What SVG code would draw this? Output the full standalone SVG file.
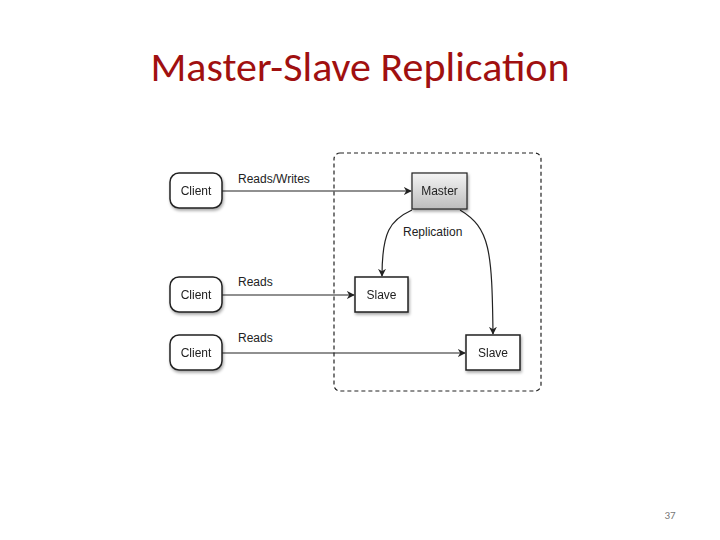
<svg xmlns="http://www.w3.org/2000/svg" width="720" height="540" viewBox="0 0 720 540">
<style>
.t{font-family:"Liberation Sans",Arial,sans-serif;font-size:12px;fill:#222}
.c{text-anchor:middle}
.box{fill:#fff;stroke:#222;stroke-width:1.5}
.ln{fill:none;stroke:#222;stroke-width:1.2;marker-end:url(#a)}
</style>
<defs>
<marker id="a" viewBox="0 0 10 10" refX="9" refY="5" markerWidth="8" markerHeight="8" orient="auto" markerUnits="userSpaceOnUse"><path d="M0,0 L10,5 L0,10 L3,5 z" fill="#222"/></marker>
<linearGradient id="g" x1="0" y1="0" x2="0" y2="1"><stop offset="0" stop-color="#f4f4f4"/><stop offset="1" stop-color="#bdbdbd"/></linearGradient>
<filter id="s" x="-20%" y="-20%" width="150%" height="160%"><feDropShadow dx="1" dy="2" stdDeviation="1.5" flood-opacity="0.35"/></filter>
</defs>
<rect width="720" height="540" fill="#fff"/>
<text x="360" y="81" text-anchor="middle" font-family="Carlito,'Liberation Sans',sans-serif" font-size="42" fill="#A01010">Master-Slave Replication</text>
<text x="670" y="519" text-anchor="middle" font-family="Carlito,'Liberation Sans',sans-serif" font-size="11" fill="#777">37</text>
<rect x="334" y="153" width="207" height="238" rx="6" fill="none" stroke="#222" stroke-width="1.2" stroke-dasharray="4,3"/>
<g id="connectors">
<path class="ln" d="M222,191 H411"/>
<path class="ln" d="M222,295 H354"/>
<path class="ln" d="M222,353 H465"/>
<path class="ln" d="M412,210 C390,220 382,232 382,276"/>
<path class="ln" d="M460,210 C490,228 492,250 493,334"/>
<text class="t" x="238" y="183">Reads/Writes</text>
<text class="t" x="238" y="286">Reads</text>
<text class="t" x="238" y="342">Reads</text>
<text class="t" x="403" y="236">Replication</text>
</g>
<g id="client1" filter="url(#s)"><rect class="box" x="170" y="173" width="52" height="35" rx="9"/><text class="t c" x="196" y="195">Client</text></g>
<g id="client2" filter="url(#s)"><rect class="box" x="170" y="277" width="52" height="35" rx="9"/><text class="t c" x="196" y="299">Client</text></g>
<g id="client3" filter="url(#s)"><rect class="box" x="170" y="335" width="52" height="35" rx="9"/><text class="t c" x="196" y="357">Client</text></g>
<g id="master" filter="url(#s)"><rect x="412" y="173" width="55" height="36" fill="url(#g)" stroke="#222" stroke-width="1.2"/><text class="t c" x="439.5" y="195">Master</text></g>
<g id="slave1" filter="url(#s)"><rect class="box" x="355" y="277" width="53" height="35"/><text class="t c" x="381.5" y="299">Slave</text></g>
<g id="slave2" filter="url(#s)"><rect class="box" x="466" y="335" width="54" height="35"/><text class="t c" x="493" y="357">Slave</text></g>
</svg>
